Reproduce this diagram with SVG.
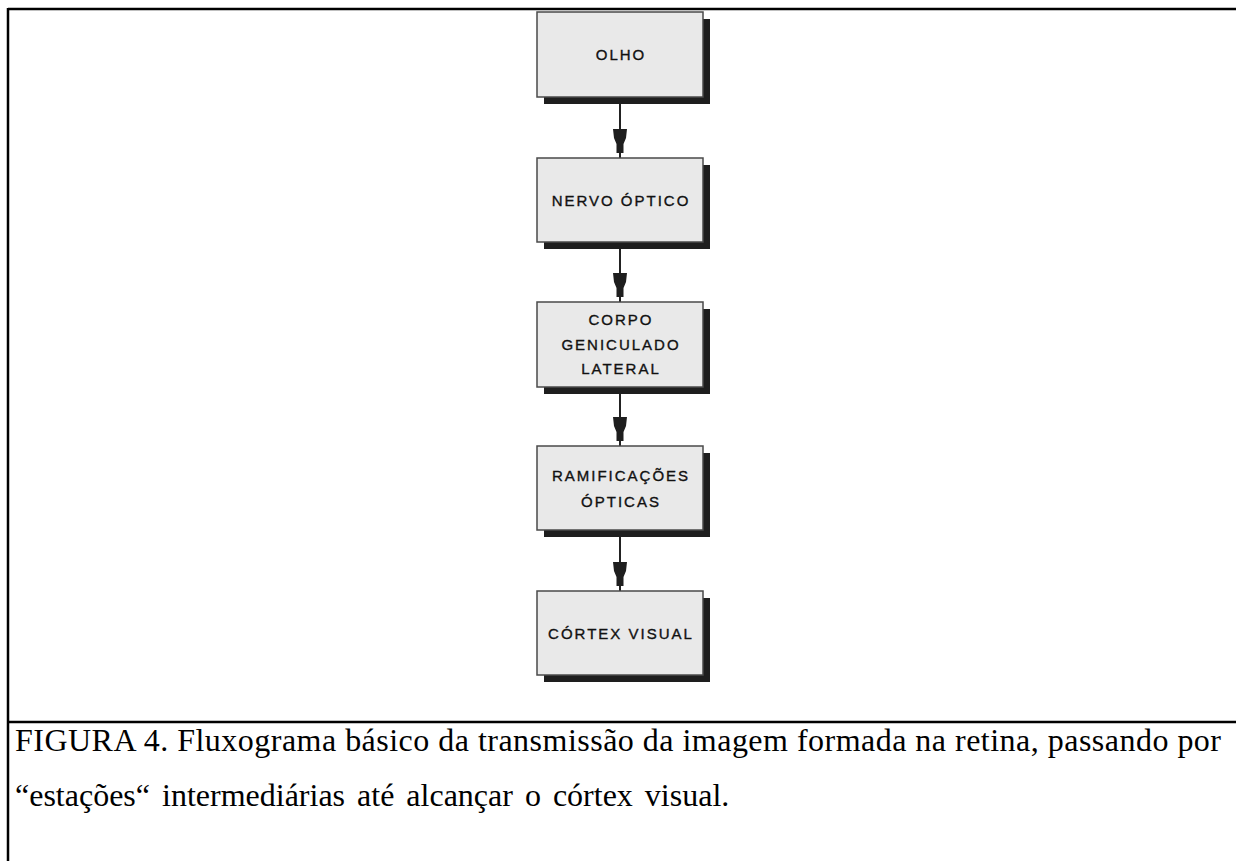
<svg xmlns="http://www.w3.org/2000/svg" width="1236" height="861" viewBox="0 0 1236 861">
<style>
.box{fill:#e9e9e9;stroke:#4a4a4a;stroke-width:1.5}
.shadow{fill:#1e1e1e}
.lbl{font-family:"Liberation Sans",Arial,sans-serif;font-size:15px;letter-spacing:2px;fill:#111;stroke:#111;stroke-width:0.35;text-anchor:middle}
.frame{stroke:#000;stroke-width:2.5;fill:none}
.cap{font-family:"Liberation Serif","Times New Roman",serif;font-size:32px;fill:#000}
.conn{stroke:#222;stroke-width:2;fill:none}
</style>
<defs>
<polygon id="head" points="-7,-29 7,-29 6,-20 3.5,-14 3.5,-5 -3.5,-5 -3.5,-14 -6,-20" fill="#1e1e1e"/>
</defs>
<rect width="1236" height="861" fill="#fff"/>
<g id="frame">
<line class="frame" x1="8" y1="9" x2="1236" y2="9"/>
<line class="frame" x1="8" y1="8" x2="8" y2="861"/>
<line class="frame" x1="8" y1="722" x2="1236" y2="722"/>
</g>
<g id="connectors">
<line class="conn" x1="620" y1="97" x2="620" y2="158"/>
<use href="#head" x="620" y="158"/>
<line class="conn" x1="620" y1="242" x2="620" y2="302"/>
<use href="#head" x="620" y="302"/>
<line class="conn" x1="620" y1="387" x2="620" y2="446"/>
<use href="#head" x="620" y="446"/>
<line class="conn" x1="620" y1="530" x2="620" y2="591"/>
<use href="#head" x="620" y="591"/>
</g>
<g id="olho">
<rect class="shadow" x="544" y="19" width="166" height="85"/>
<rect class="box" x="537" y="12" width="166" height="85"/>
<text class="lbl" x="621" y="60">OLHO</text>
</g>
<g id="nervo-optico">
<rect class="shadow" x="544" y="165" width="166" height="84"/>
<rect class="box" x="537" y="158" width="166" height="84"/>
<text class="lbl" x="621" y="206">NERVO ÓPTICO</text>
</g>
<g id="corpo-geniculado">
<rect class="shadow" x="544" y="309" width="166" height="85"/>
<rect class="box" x="537" y="302" width="166" height="85"/>
<text class="lbl" x="621" y="325">CORPO</text>
<text class="lbl" x="621" y="350">GENICULADO</text>
<text class="lbl" x="621" y="374">LATERAL</text>
</g>
<g id="ramificacoes">
<rect class="shadow" x="544" y="453" width="166" height="84"/>
<rect class="box" x="537" y="446" width="166" height="84"/>
<text class="lbl" x="621" y="481">RAMIFICAÇÕES</text>
<text class="lbl" x="621" y="507">ÓPTICAS</text>
</g>
<g id="cortex-visual">
<rect class="shadow" x="544" y="598" width="166" height="84"/>
<rect class="box" x="537" y="591" width="166" height="84"/>
<text class="lbl" x="621" y="639">CÓRTEX VISUAL</text>
</g>
<g id="caption">
<text class="cap" x="15" y="751" textLength="1206" lengthAdjust="spacing">FIGURA 4. Fluxograma básico da transmissão da imagem formada na retina, passando por</text>
<text class="cap" x="15" y="806" word-spacing="4">“estações“ intermediárias até alcançar o córtex visual.</text>
</g>
</svg>
